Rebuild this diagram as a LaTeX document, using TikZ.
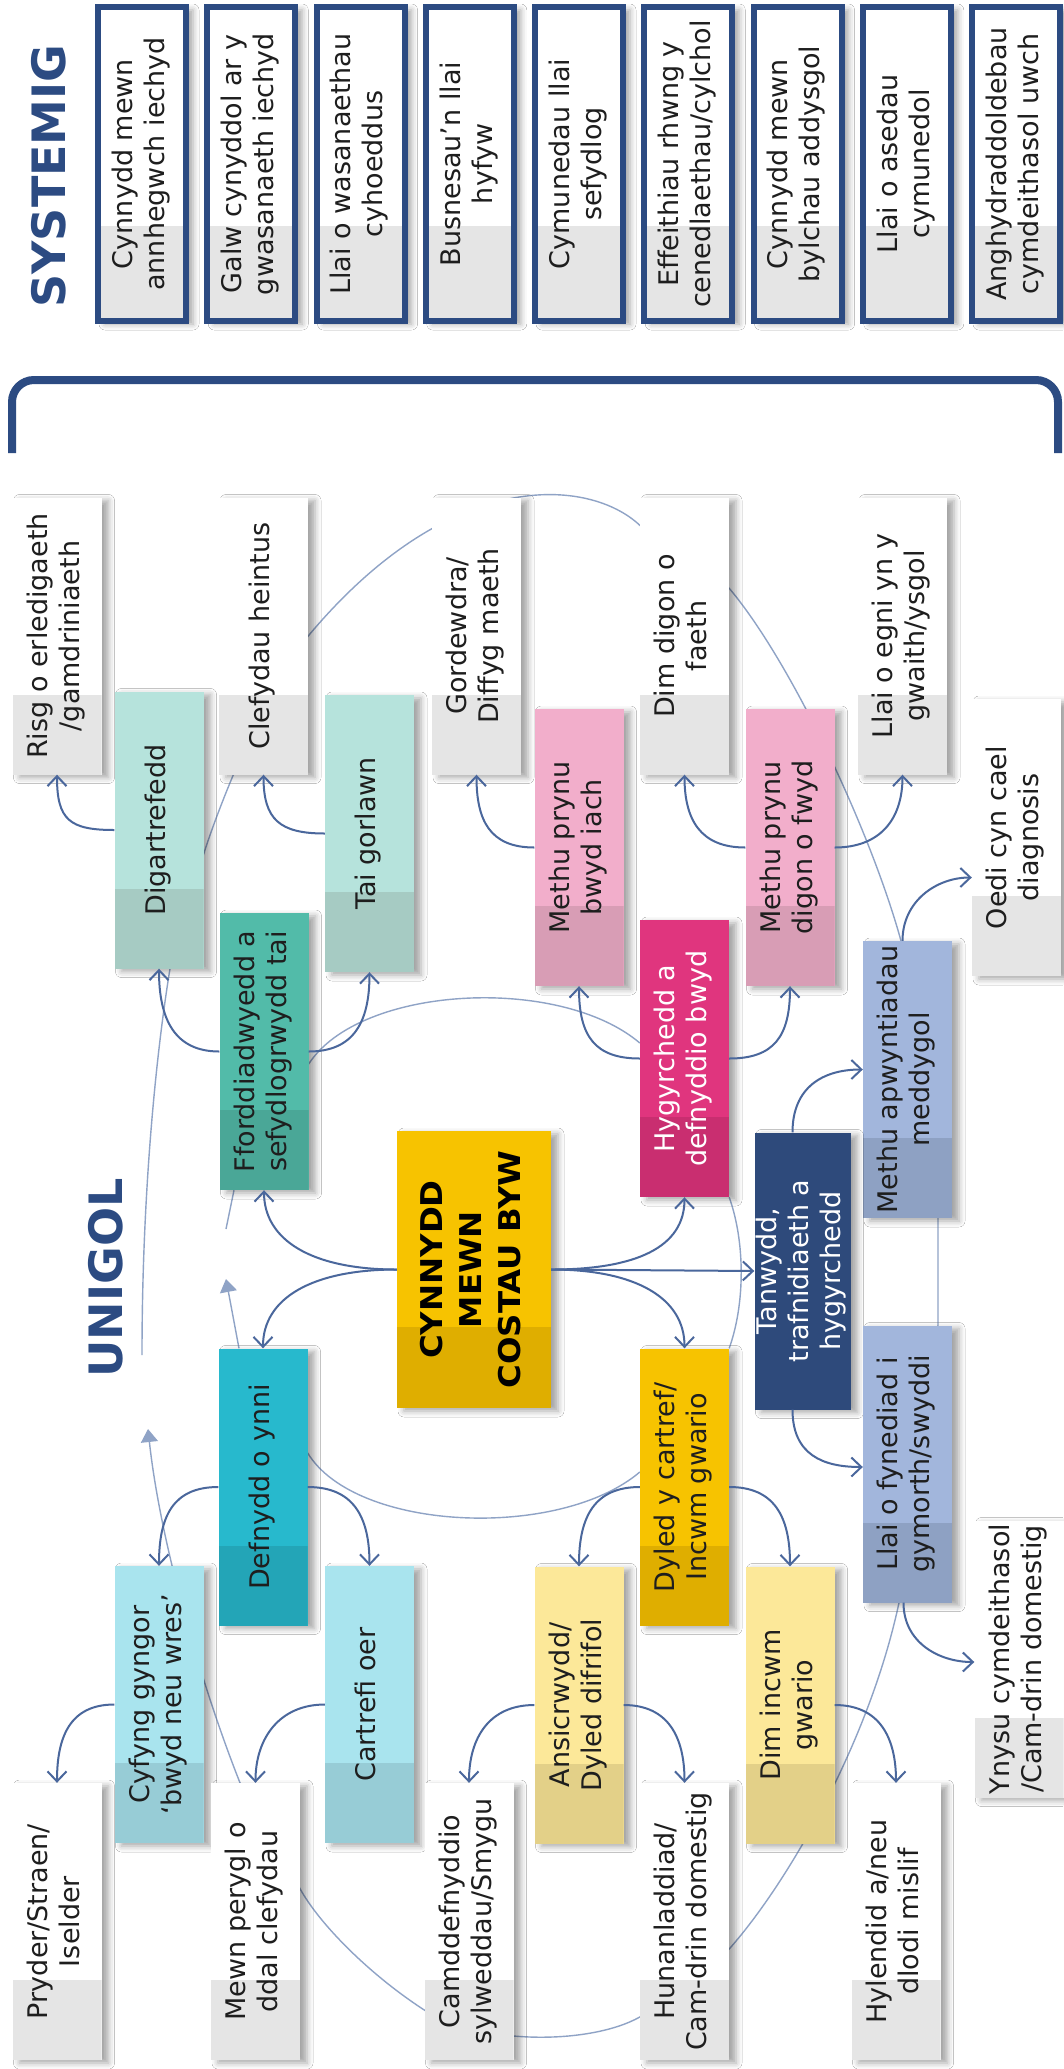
\documentclass[tikz,border=0pt]{standalone}
\usepackage{fontspec}
\setmainfont{DejaVu Sans}
\newfontfamily\ctrfont{DejaVu Sans}[FakeStretch=1.08]
\usetikzlibrary{arrows.meta,shadows.blur,backgrounds}
\definecolor{navy}{HTML}{2C4B82}
\definecolor{tanwcol}{HTML}{2E4A7B}
\definecolor{arrowblue}{HTML}{4A679C}
\definecolor{ringblue}{HTML}{8FA3C6}
\definecolor{txt}{HTML}{1E1E1E}
\definecolor{grey1}{HTML}{E5E5E5}
\definecolor{goldA}{HTML}{F7C300}
\definecolor{goldB}{HTML}{DFAE00}
\definecolor{mintA}{HTML}{B6E3DC}
\definecolor{mintB}{HTML}{A6CBC3}
\definecolor{tealA}{HTML}{52BBA9}
\definecolor{tealB}{HTML}{4AA797}
\definecolor{pinkA}{HTML}{F2AECB}
\definecolor{pinkB}{HTML}{D89DB5}
\definecolor{magA}{HTML}{E0357E}
\definecolor{magB}{HTML}{C92E70}
\definecolor{periA}{HTML}{A2B6DC}
\definecolor{periB}{HTML}{8EA1C3}
\definecolor{cyanA}{HTML}{27B9CD}
\definecolor{cyanB}{HTML}{23A5B7}
\definecolor{skyA}{HTML}{A9E4EE}
\definecolor{skyB}{HTML}{97CCD6}
\definecolor{creamA}{HTML}{FCE899}
\definecolor{creamB}{HTML}{E3D088}
% rotated, centred lines of text
\newcommand\rt[1]{\rotatebox{90}{\begin{tabular}{@{}c@{}}#1\end{tabular}}}

\begin{document}
\begin{tikzpicture}[x=1pt,y=-1pt,% coordinates in pixels of the slide
    every node/.style={font=\fontsize{27}{32}\selectfont, text=txt},
    twotone/.style n args={3}{fill=#1,
        path picture={\fill[#2] ([yshift=#3]path picture bounding box.south west) rectangle (path picture bounding box.south east);}},
    box/.style={rectangle, inner sep=0pt, minimum width=89pt, minimum height=277pt,
        blur shadow={shadow xshift=7pt, shadow yshift=-3pt, shadow blur radius=6pt, shadow opacity=35}},
    outbox/.style={box, twotone={white}{grey1}{80pt}},
    sysbox/.style={box, minimum width=88pt, minimum height=314pt, draw=navy, line width=6pt,
        twotone={white}{grey1}{95pt}},
    title/.style={font=\fontsize{46}{50}\selectfont\bfseries, text=navy},
    arr/.style={draw=arrowblue, line width=2pt, -{Straight Barb[length=10pt,width=19pt]}},
    ring/.style={draw=ringblue, line width=1.4pt}
  ]
  \useasboundingbox (0,0) rectangle (1063,2069);

  % headings and bracket
  \node[title] (systemig) at (49,176) {\rotatebox{90}{SYSTEMIG}};
  \node[title] (unigol) at (106,1278) {\rotatebox{90}{UNIGOL}};
  \draw[navy, line width=8pt, rounded corners=22pt] (12,453) -- (12,380) -- (1058,380) -- (1058,453);

  % systemic effects
  \foreach \t [count=\i] in {{Cynnydd mewn\\annhegwch iechyd},{Galw cynyddol ar y\\gwasanaeth iechyd},
      {Llai o wasanaethau\\cyhoeddus},{Busnesau’n llai\\hyfyw},{Cymunedau llai\\sefydlog},
      {Effeithiau rhwng y\\cenedlaethau/cylchol},{Cynnydd mewn\\bylchau addysgol},
      {Llai o asedau\\cymunedol},{Anghydraddoldebau\\cymdeithasol uwch}}
    \node[sysbox] (sys\i) at ({142+109.25*(\i-1)},164) {\rt{\t}};

  % outcomes, top row
  \node[outbox] (risg) at (57,636) {\rt{Risg o erledigaeth\\/gamdriniaeth}};
  \node[outbox] (clef) at (263.5,636) {\rt{Clefydau heintus}};
  \node[outbox] (gord) at (476.5,636) {\rt{Gordewdra/\\Diffyg maeth}};
  \node[outbox] (digon) at (684.5,636) {\rt{Dim digon o\\faeth}};
  \node[outbox] (egni) at (902.5,636) {\rt{Llai o egni yn y\\gwaith/ysgol}};

  \node[box, twotone={mintA}{mintB}{80pt}] (digart) at (159,830) {\rt{Digartrefedd}};
  \node[box, twotone={mintA}{mintB}{80pt}] (tai) at (369.5,833.5) {\rt{Tai gorlawn}};
  \node[box, twotone={pinkA}{pinkB}{80pt}] (iach) at (579,847.5) {\rt{Methu prynu\\bwyd iach}};
  \node[box, twotone={pinkA}{pinkB}{80pt}] (fwyd) at (790,847.5) {\rt{Methu prynu\\digon o fwyd}};
  \node[outbox] (oedi) at (1016.5,837.5) {\rt{Oedi cyn cael\\diagnosis}};

  % drivers
  \node[box, twotone={tealA}{tealB}{80pt}] (ffordd) at (264,1051.5) {\rt{Fforddiadwyedd a\\sefydlogrwydd tai}};
  \node[box, twotone={magA}{magB}{80pt}, text=white] (hygyr) at (684.5,1058.5) {\rt{Hygyrchedd a\\defnyddio bwyd}};
  \node[box, twotone={periA}{periB}{80pt}] (mapw) at (907.5,1079.5) {\rt{Methu apwyntiadau\\meddygol}};
  \node[box, minimum width=154pt, twotone={goldA}{goldB}{81pt},
        font=\ctrfont\fontsize{30}{39}\selectfont\bfseries, text=black] (cost) at (474,1269.5)
        {\rt{CYNNYDD\\MEWN\\COSTAU BYW}};
  \node[box, fill=tanwcol, text=white] (tanw) at (802.5,1271) {\rt{Tanwydd,\\trafnidiaeth a\\hygyrchedd}};
  \node[box, twotone={cyanA}{cyanB}{80pt}] (defn) at (263,1487) {\rt{Defnydd o ynni}};
  \node[box, twotone={goldA}{goldB}{80pt}] (dyled) at (684.5,1487) {\rt{Dyled y cartref/\\Incwm gwario}};
  \node[box, twotone={periA}{periB}{80pt}] (llfyn) at (907.5,1464) {\rt{Llai o fynediad i\\gymorth/swyddi}};
  \node[outbox] (ynysu) at (1019,1659) {\rt{Ynysu cymdeithasol\\/Cam-drin domestig}};

  \node[box, twotone={skyA}{skyB}{80pt}] (cyfyng) at (159,1704.5) {\rt{Cyfyng gyngor\\‘bwyd neu wres’}};
  \node[box, twotone={skyA}{skyB}{80pt}] (cartr) at (369.5,1704.5) {\rt{Cartrefi oer}};
  \node[box, twotone={creamA}{creamB}{80pt}] (ansic) at (579,1705) {\rt{Ansicrwydd/\\Dyled difrifol}};
  \node[box, twotone={creamA}{creamB}{80pt}] (dimin) at (790,1705) {\rt{Dim incwm\\gwario}};

  % outcomes, bottom row
  \node[outbox] (pryder) at (57,1921.5) {\rt{Pryder/Straen/\\Iselder}};
  \node[outbox] (mewn) at (255.5,1921.5) {\rt{Mewn perygl o\\ddal clefydau}};
  \node[outbox] (camdd) at (469,1921.5) {\rt{Camddefnyddio\\sylweddau/Smygu}};
  \node[outbox] (hunan) at (684.5,1921.5) {\rt{Hunanladdiad/\\Cam-drin domestig}};
  \node[outbox] (hylen) at (896,1921.5) {\rt{Hylendid a/neu\\dlodi mislif}};

  % loose ends of the ring
  \coordinate (loopstart) at (142,1355);
  \coordinate (looptip) at (148,1429);
  \coordinate (ffgap) at (226,1229);
  \coordinate (defgap) at (226,1279);

  % arrows out of the centre
  \draw[arr] (cost.west) .. controls +(-85,0) and +(0,50) .. (ffordd.south);
  \draw[arr] (cost.west) .. controls +(-85,0) and +(0,-50) .. (defn.north);
  \draw[arr] (cost.east) .. controls +(85,0) and +(0,50) .. (hygyr.south);
  \draw[arr] (cost.east) .. controls +(85,0) and +(0,-50) .. (dyled.north);
  \draw[arr] (cost.east) -- (tanw.west);
  \draw[arr] ([xshift=-10pt]tanw.north) .. controls +(0,-45) and +(-40,0) .. ([yshift=10pt]mapw.west);
  \draw[arr] ([xshift=-10pt]tanw.south) .. controls +(0,45) and +(-40,0) .. ([yshift=-3pt]llfyn.west);
  \draw[arr] ([xshift=-5pt]mapw.north) .. controls +(0,-40) and +(-35,0) .. ([yshift=-40pt]oedi.west);
  \draw[arr] ([xshift=-4pt]llfyn.south) .. controls +(0,40) and +(-35,0) .. ([yshift=-3pt]ynysu.west);
  % drivers to effects
  \draw[arr] (ffordd.west) .. controls +(-45,0) and +(0,50) .. (digart.south);
  \draw[arr] (ffordd.east) .. controls +(45,0) and +(0,50) .. (tai.south);
  \draw[arr] (hygyr.west) .. controls +(-45,0) and +(0,50) .. (iach.south);
  \draw[arr] (hygyr.east) .. controls +(45,0) and +(0,50) .. (fwyd.south);
  \draw[arr] (digart.west) .. controls +(-45,0) and +(0,45) .. (risg.south);
  \draw[arr] (tai.west) .. controls +(-45,0) and +(0,45) .. (clef.south);
  \draw[arr] (iach.west) .. controls +(-45,0) and +(0,45) .. (gord.south);
  \draw[arr] (fwyd.west) .. controls +(-45,0) and +(0,45) .. (digon.south);
  \draw[arr] (fwyd.east) .. controls +(45,0) and +(0,45) .. (egni.south);
  \draw[arr] (defn.west) .. controls +(-45,0) and +(0,-50) .. (cyfyng.north);
  \draw[arr] (defn.east) .. controls +(45,0) and +(0,-50) .. (cartr.north);
  \draw[arr] (dyled.west) .. controls +(-45,0) and +(0,-50) .. (ansic.north);
  \draw[arr] (dyled.east) .. controls +(45,0) and +(0,-50) .. (dimin.north);
  \draw[arr] (cyfyng.west) .. controls +(-45,0) and +(0,-45) .. (pryder.north);
  \draw[arr] (cartr.west) .. controls +(-45,0) and +(0,-45) .. (mewn.north);
  \draw[arr] (ansic.west) .. controls +(-45,0) and +(0,-45) .. (camdd.north);
  \draw[arr] (ansic.east) .. controls +(45,0) and +(0,-45) .. (hunan.north);
  \draw[arr] (dimin.east) .. controls +(45,0) and +(0,-45) .. (hylen.north);

  % thin links behind the boxes
  \begin{scope}[on background layer]
    \fill[white] (0,0) rectangle (1063,2069);
    \draw[ring] (hygyr.south east) .. controls +(16,45) and +(16,-45) .. (dyled.north east);
    \draw[ring] ([yshift=-12.5pt]ffordd.east) .. controls +(51,-79) and +(-80,-68) .. ([yshift=15.5pt]hygyr.west);
    \draw[ring] ([yshift=34pt]defn.east) .. controls +(48,79) and +(-80,68) .. ([yshift=15pt]dyled.west);
    \draw[ring] ([xshift=-30pt]ffordd.south) -- (ffgap);
    \draw[ring, -{Triangle[length=13pt,width=17pt]}] ([xshift=-24pt]defn.north) -- (defgap);
    \draw[ring, -{Triangle[length=13pt,width=17pt]}] (loopstart)
      .. controls +(0,-155) and +(-15,92) .. ([xshift=11pt]digart.south)
      -- ([yshift=-24pt]digart.east)
      .. controls +(17,-54) and +(-40,48) .. (clef.east)
      .. controls +(143,-171) and +(-50,-47) .. ([yshift=-28pt]digon.north west)
      -- ([yshift=-91pt]digon.north east)
      .. controls +(61,72) and +(-31,-112) .. ([xshift=-6.5pt]mapw.north)
      -- ([xshift=30.5pt]mapw.south) -- ([xshift=30.5pt]llfyn.north) -- ([xshift=-8.5pt]llfyn.south)
      .. controls +(-29,136) and +(61,-69) .. ([yshift=-27.5pt]hunan.east)
      -- ([yshift=-95.5pt]hunan.west)
      .. controls +(-50,28) and +(56,35) .. ([yshift=-88.5pt]camdd.west)
      .. controls +(-54,-35) and +(20,36) .. ([yshift=32.5pt]mewn.east)
      -- ([xshift=-15.5pt]mewn.north)
      .. controls +(-40,-101) and +(12,111) .. (looptip);
  \end{scope}
\end{tikzpicture}
\end{document}
